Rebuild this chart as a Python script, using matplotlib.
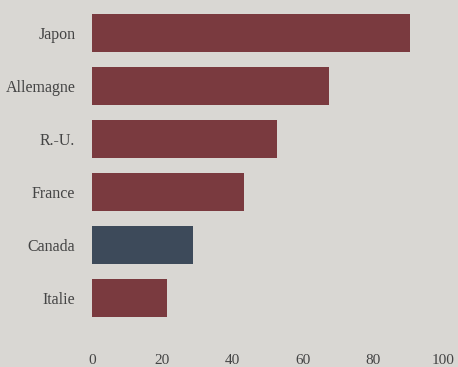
import matplotlib
matplotlib.use("Agg")
import matplotlib.pyplot as plt

countries = ["Japon", "Allemagne", "R.-U.", "France", "Canada", "Italie"]
values = [90.6, 67.6, 52.6, 43.2, 28.8, 21.3]
colors = ["#7a3a3f", "#7a3a3f", "#7a3a3f", "#7a3a3f", "#3d4a5a", "#7a3a3f"]
xticks = [0, 20, 40, 60, 80, 100]

bg = "#d9d7d3"
W, H = 458, 367
fig = plt.figure(figsize=(W / 100, H / 100), dpi=100, facecolor=bg)
left, right = 92, 443
top, bottom = 6.5, 324.5
ax = fig.add_axes([left / W, 1 - bottom / H, (right - left) / W, (bottom - top) / H])
ax.set_facecolor(bg)

ypos = list(range(len(countries)))
ax.barh(ypos, values, height=0.72, color=colors)
ax.set_xlim(0, 100)
ax.set_ylim(len(countries) - 0.5, -0.5)
ax.set_yticks(ypos)
ax.set_yticklabels(countries)
ax.set_xticks(xticks)
ax.set_xticklabels([str(t) for t in xticks])
for s in ax.spines.values():
    s.set_visible(False)
ax.tick_params(axis="both", length=0, colors="#444444", labelsize=11)
ax.tick_params(axis="y", pad=12, labelsize=11.5)
ax.tick_params(axis="x", pad=21)
for lab in ax.get_xticklabels() + ax.get_yticklabels():
    lab.set_fontfamily("Liberation Serif")

fig.savefig("out.png", dpi=100, facecolor=bg)
